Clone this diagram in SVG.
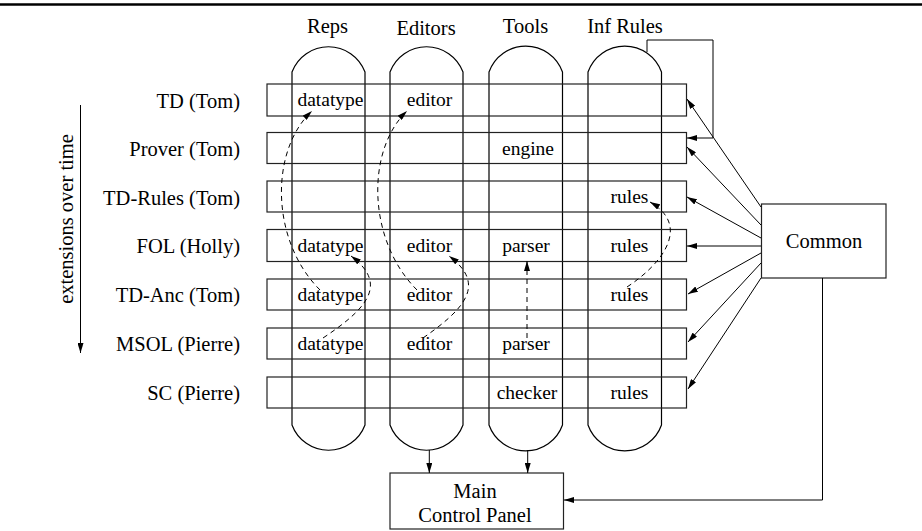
<svg xmlns="http://www.w3.org/2000/svg" width="922" height="531" viewBox="0 0 922 531">
<defs>
<marker id="ah" markerUnits="userSpaceOnUse" viewBox="0 0 10 6" refX="10" refY="3" markerWidth="10" markerHeight="6" orient="auto">
<path d="M0,0 L10,3 L0,6 z" fill="#000"/>
</marker>
</defs>
<style>
text{font-family:"Liberation Serif","Times New Roman",serif;fill:#000}
.lab{font-size:20.5px;text-anchor:end}
.hd{font-size:20.5px;text-anchor:middle}
.cell{font-size:19.5px;text-anchor:middle}
.box{fill:none;stroke:#222;stroke-width:1.2}
.col{fill:none;stroke:#000;stroke-width:1.2}
.ln{fill:none;stroke:#000;stroke-width:1}
.dash{fill:none;stroke:#000;stroke-width:1;stroke-dasharray:5,4}
</style>
<rect width="922" height="531" fill="#fff"/>
<line x1="0" y1="4.5" x2="922" y2="4.5" stroke="#000" stroke-width="2.5"/>

<g id="headers">
<text class="hd" x="327.5" y="33">Reps</text>
<text class="hd" x="426" y="35">Editors</text>
<text class="hd" x="525.5" y="33">Tools</text>
<text class="hd" x="625" y="33">Inf Rules</text>
</g>

<g id="columns">
<path class="col" d="M292,72 A39,39 0 0 1 365,72 L365,425 A39,39 0 0 1 292,425 Z"/>
<path class="col" d="M390,72 A39,39 0 0 1 463,72 L463,425 A39,39 0 0 1 390,425 Z"/>
<path class="col" d="M489,72 A39,39 0 0 1 562.5,72 L562.5,425 A39,39 0 0 1 489,425 Z"/>
<path class="col" d="M588,72 A39,39 0 0 1 661.5,72 L661.5,425 A39,39 0 0 1 588,425 Z"/>
</g>

<g id="row-td">
<rect class="box" x="267" y="84" width="419.5" height="32"/>
<text class="lab" x="240" y="108">TD (Tom)</text>
<text class="cell" x="330.5" y="106">datatype</text>
<text class="cell" x="429.5" y="106">editor</text>
</g>
<g id="row-prover">
<rect class="box" x="267" y="132.5" width="419.5" height="31"/>
<text class="lab" x="240" y="156">Prover (Tom)</text>
<text class="cell" x="528" y="154.5">engine</text>
</g>
<g id="row-tdrules">
<rect class="box" x="267" y="181" width="419.5" height="31"/>
<text class="lab" x="240" y="204.5">TD-Rules (Tom)</text>
<text class="cell" x="629.5" y="203">rules</text>
</g>
<g id="row-fol">
<rect class="box" x="267" y="229.5" width="419.5" height="32"/>
<text class="lab" x="240" y="253">FOL (Holly)</text>
<text class="cell" x="330.5" y="251.5">datatype</text>
<text class="cell" x="429.5" y="251.5">editor</text>
<text class="cell" x="526" y="251.5">parser</text>
<text class="cell" x="629.5" y="251.5">rules</text>
</g>
<g id="row-tdanc">
<rect class="box" x="267" y="279" width="419.5" height="31"/>
<text class="lab" x="240" y="302">TD-Anc (Tom)</text>
<text class="cell" x="330.5" y="300.5">datatype</text>
<text class="cell" x="429.5" y="300.5">editor</text>
<text class="cell" x="629.5" y="300.5">rules</text>
</g>
<g id="row-msol">
<rect class="box" x="267" y="328" width="419.5" height="31"/>
<text class="lab" x="240" y="351">MSOL (Pierre)</text>
<text class="cell" x="330.5" y="349.5">datatype</text>
<text class="cell" x="429.5" y="349.5">editor</text>
<text class="cell" x="526" y="349.5">parser</text>
</g>
<g id="row-sc">
<rect class="box" x="267" y="377" width="419.5" height="31"/>
<text class="lab" x="240" y="400">SC (Pierre)</text>
<text class="cell" x="527" y="398.5">checker</text>
<text class="cell" x="629.5" y="398.5">rules</text>
</g>

<g id="common">
<rect class="box" x="761.5" y="204" width="124.5" height="74"/>
<text class="hd" x="824" y="248">Common</text>
</g>

<g id="main-control-panel">
<rect class="box" x="390" y="473" width="173.5" height="56"/>
<text class="hd" x="475" y="498">Main</text>
<text class="hd" x="475" y="521.5">Control Panel</text>
</g>

<g id="time-axis">
<line class="ln" x1="80.5" y1="105" x2="80.5" y2="353" marker-end="url(#ah)"/>
<text class="hd" font-size="19.5" transform="translate(73,219) rotate(-90)">extensions over time</text>
</g>

<g id="connectors">
<line class="ln" x1="761" y1="207" x2="687" y2="99" marker-end="url(#ah)"/>
<line class="ln" x1="761" y1="225" x2="687" y2="147" marker-end="url(#ah)"/>
<line class="ln" x1="761" y1="238" x2="687" y2="197" marker-end="url(#ah)"/>
<line class="ln" x1="761" y1="246" x2="687" y2="246" marker-end="url(#ah)"/>
<line class="ln" x1="761" y1="253" x2="688" y2="294" marker-end="url(#ah)"/>
<line class="ln" x1="761" y1="263" x2="688" y2="342" marker-end="url(#ah)"/>
<line class="ln" x1="761" y1="278" x2="688" y2="389" marker-end="url(#ah)"/>
<polyline class="ln" points="647,52 647,40 713,40 713,138 687,138" marker-end="url(#ah)"/>
<polyline class="ln" points="822.5,278 822.5,500 564,500" marker-end="url(#ah)"/>
<line class="ln" x1="429.3" y1="450" x2="429.3" y2="473" marker-end="url(#ah)"/>
<line class="ln" x1="527.7" y1="450" x2="527.7" y2="473" marker-end="url(#ah)"/>
<path class="dash" d="M320,290 C270,240 270,150 312,111" marker-end="url(#ah)"/>
<path class="dash" d="M417,290 C367,240 366,150 407,111" marker-end="url(#ah)"/>
<path class="dash" d="M323,338 C365,310 390,285 351,256" marker-end="url(#ah)"/>
<path class="dash" d="M423,338 C463,310 488,285 449,256" marker-end="url(#ah)"/>
<line class="dash" x1="527" y1="338" x2="527" y2="261" marker-end="url(#ah)"/>
<path class="dash" d="M627,287 C665,262 690,225 650,202" marker-end="url(#ah)"/>
</g>
</svg>
